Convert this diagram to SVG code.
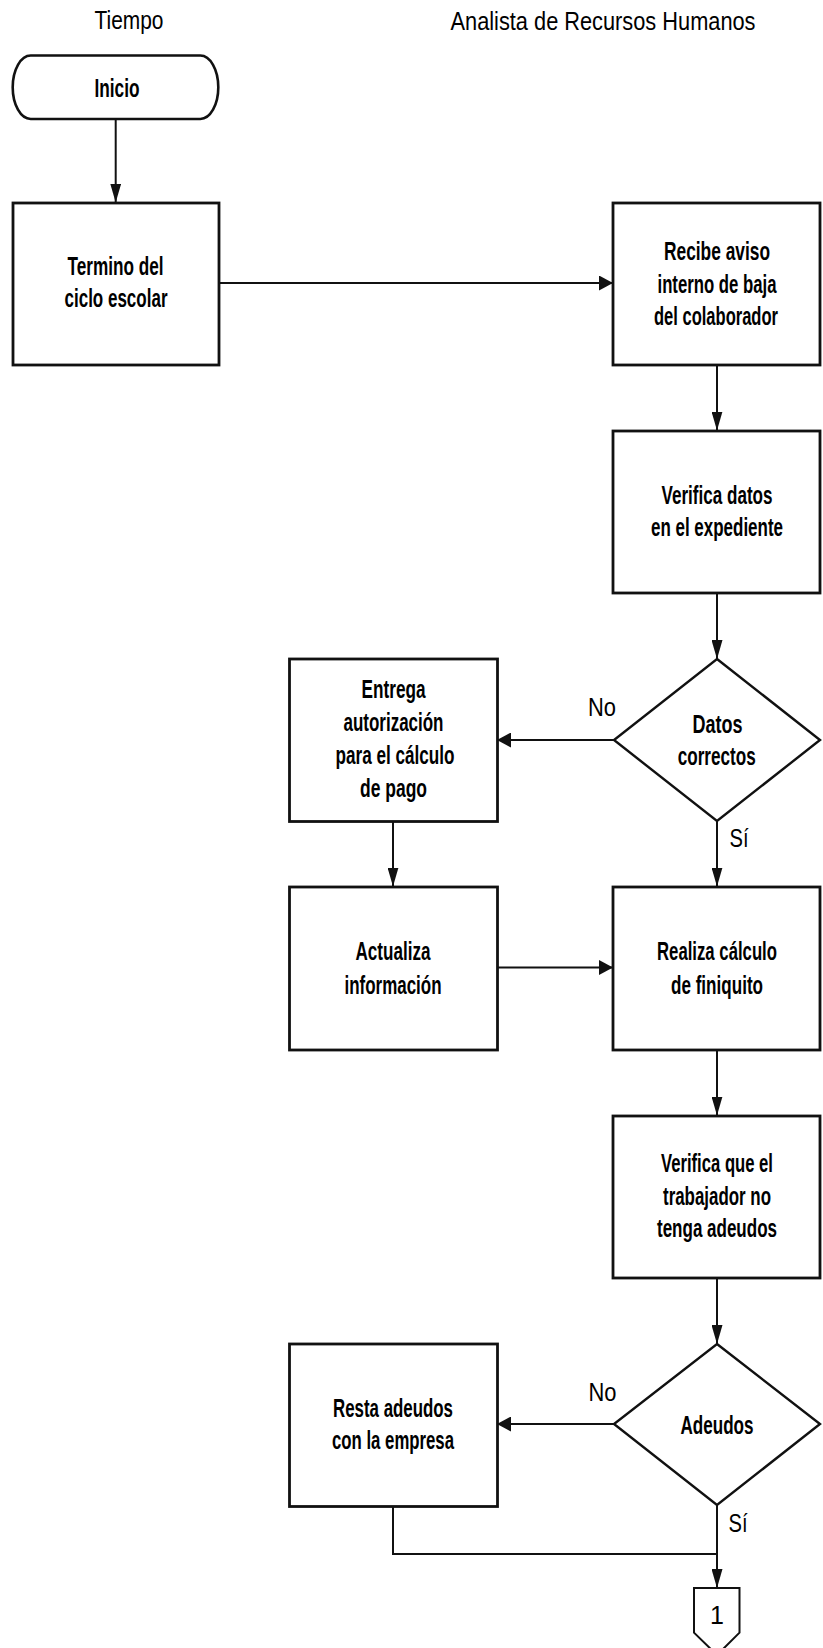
<svg xmlns="http://www.w3.org/2000/svg" width="823" height="1648" viewBox="0 0 823 1648">
  <defs>
    <style>
      .box { fill: #ffffff; stroke: #111111; stroke-width: 2.8; }
      .dec { fill: #ffffff; stroke: #111111; stroke-width: 2.4; }
      .term { fill: #ffffff; stroke: #111111; stroke-width: 2.6; }
      .off { fill: #ffffff; stroke: #111111; stroke-width: 2; }
      .wire { fill: none; stroke: #111111; stroke-width: 2; }
      .lbl { font-family: "Liberation Sans", Arial, sans-serif; font-weight: bold; font-size: 26px; fill: #000000; text-anchor: middle; }
      .hdr { font-family: "Liberation Sans", Arial, sans-serif; font-size: 25px; fill: #000000; text-anchor: middle; }
      .tag { font-family: "Liberation Sans", Arial, sans-serif; font-size: 25px; fill: #000000; text-anchor: middle; }
    </style>
    <!-- arrowheads: tall for vertical runs, square for horizontal runs -->
    <marker id="arrV" markerUnits="userSpaceOnUse" markerWidth="19" markerHeight="11" refX="19" refY="5.5" orient="auto">
      <path d="M0,0 L19,5.5 L0,11 Z" fill="#111111"/>
    </marker>
    <marker id="arrH" markerUnits="userSpaceOnUse" markerWidth="14" markerHeight="15" refX="14" refY="7.5" orient="auto">
      <path d="M0,0 L14,7.5 L0,15 Z" fill="#111111"/>
    </marker>
  </defs>

  <rect width="823" height="1648" fill="#ffffff"/>

  <!-- lane headers -->
  <g id="headers">
    <text class="hdr" x="129" y="29" textLength="69" lengthAdjust="spacingAndGlyphs">Tiempo</text>
    <text class="hdr" x="603" y="29.5" textLength="305" lengthAdjust="spacingAndGlyphs">Analista de Recursos Humanos</text>
  </g>

  <!-- connectors -->
  <g id="connectors">
    <line class="wire" x1="115.7" y1="119" x2="115.7" y2="202.5" marker-end="url(#arrV)"/>
    <line class="wire" x1="219" y1="283" x2="613" y2="283" marker-end="url(#arrH)"/>
    <line class="wire" x1="717" y1="365" x2="717" y2="430.5" marker-end="url(#arrV)"/>
    <line class="wire" x1="717" y1="593" x2="717" y2="659" marker-end="url(#arrV)"/>
    <line class="wire" x1="614" y1="740" x2="497" y2="740" marker-end="url(#arrH)"/>
    <line class="wire" x1="717" y1="821" x2="717" y2="886.5" marker-end="url(#arrV)"/>
    <line class="wire" x1="393" y1="821" x2="393" y2="886.5" marker-end="url(#arrV)"/>
    <line class="wire" x1="497" y1="967.5" x2="613" y2="967.5" marker-end="url(#arrH)"/>
    <line class="wire" x1="717" y1="1049" x2="717" y2="1115.5" marker-end="url(#arrV)"/>
    <line class="wire" x1="717" y1="1278" x2="717" y2="1344" marker-end="url(#arrV)"/>
    <line class="wire" x1="614" y1="1424" x2="497" y2="1424" marker-end="url(#arrH)"/>
    <line class="wire" x1="717" y1="1505" x2="717" y2="1588" marker-end="url(#arrV)"/>
    <polyline class="wire" points="393,1506 393,1554 717,1554"/>
    <text class="tag" x="602" y="716" textLength="28" lengthAdjust="spacingAndGlyphs">No</text>
    <text class="tag" x="739" y="846.7" textLength="19" lengthAdjust="spacingAndGlyphs">Sí</text>
    <text class="tag" x="602.5" y="1400.7" textLength="28" lengthAdjust="spacingAndGlyphs">No</text>
    <text class="tag" x="738" y="1531.7" textLength="19" lengthAdjust="spacingAndGlyphs">Sí</text>
  </g>

  <g id="inicio">
    <rect class="term" x="12.7" y="55.5" width="205.6" height="63.5" rx="18" ry="31.7"/>
    <text class="lbl" x="117" y="96.7" textLength="45" lengthAdjust="spacingAndGlyphs">Inicio</text>
  </g>

  <g id="termino-ciclo">
    <rect class="box" x="13" y="203" width="206" height="162"/>
    <text class="lbl" x="115.5" y="275" textLength="96" lengthAdjust="spacingAndGlyphs">Termino del</text>
    <text class="lbl" x="116" y="307" textLength="103" lengthAdjust="spacingAndGlyphs">ciclo escolar</text>
  </g>

  <g id="recibe-aviso">
    <rect class="box" x="613" y="203" width="207" height="162"/>
    <text class="lbl" x="717" y="260" textLength="106" lengthAdjust="spacingAndGlyphs">Recibe aviso</text>
    <text class="lbl" x="717" y="292.7" textLength="119" lengthAdjust="spacingAndGlyphs">interno de baja</text>
    <text class="lbl" x="716" y="325" textLength="124" lengthAdjust="spacingAndGlyphs">del colaborador</text>
  </g>

  <g id="verifica-datos">
    <rect class="box" x="613" y="431" width="207" height="162"/>
    <text class="lbl" x="717" y="504" textLength="111" lengthAdjust="spacingAndGlyphs">Verifica datos</text>
    <text class="lbl" x="717" y="536" textLength="132" lengthAdjust="spacingAndGlyphs">en el expediente</text>
  </g>

  <g id="datos-correctos">
    <polygon class="dec" points="717,659 820,740 717,821 614,740"/>
    <text class="lbl" x="717.5" y="732.7" textLength="50" lengthAdjust="spacingAndGlyphs">Datos</text>
    <text class="lbl" x="716.7" y="765" textLength="78" lengthAdjust="spacingAndGlyphs">correctos</text>
  </g>

  <g id="entrega-autorizacion">
    <rect class="box" x="289.5" y="659" width="208" height="162.5"/>
    <text class="lbl" x="393.5" y="698" textLength="64" lengthAdjust="spacingAndGlyphs">Entrega</text>
    <text class="lbl" x="393.5" y="731" textLength="100" lengthAdjust="spacingAndGlyphs">autorización</text>
    <text class="lbl" x="395" y="764" textLength="119" lengthAdjust="spacingAndGlyphs">para el cálculo</text>
    <text class="lbl" x="393.5" y="797" textLength="67" lengthAdjust="spacingAndGlyphs">de pago</text>
  </g>

  <g id="actualiza-informacion">
    <rect class="box" x="289.5" y="887" width="208" height="163"/>
    <text class="lbl" x="393" y="959.5" textLength="75" lengthAdjust="spacingAndGlyphs">Actualiza</text>
    <text class="lbl" x="393" y="993.5" textLength="97" lengthAdjust="spacingAndGlyphs">información</text>
  </g>

  <g id="realiza-calculo">
    <rect class="box" x="613" y="887" width="207" height="163"/>
    <text class="lbl" x="717" y="959.5" textLength="120" lengthAdjust="spacingAndGlyphs">Realiza cálculo</text>
    <text class="lbl" x="717" y="993.5" textLength="92" lengthAdjust="spacingAndGlyphs">de finiquito</text>
  </g>

  <g id="verifica-adeudos">
    <rect class="box" x="613" y="1116" width="207" height="162"/>
    <text class="lbl" x="717" y="1171.7" textLength="112" lengthAdjust="spacingAndGlyphs">Verifica que el</text>
    <text class="lbl" x="717" y="1205" textLength="108" lengthAdjust="spacingAndGlyphs">trabajador no</text>
    <text class="lbl" x="717" y="1237.3" textLength="120" lengthAdjust="spacingAndGlyphs">tenga adeudos</text>
  </g>

  <g id="adeudos">
    <polygon class="dec" points="717,1344 820,1424 717,1505 614,1424"/>
    <text class="lbl" x="717" y="1434" textLength="73" lengthAdjust="spacingAndGlyphs">Adeudos</text>
  </g>

  <g id="resta-adeudos">
    <rect class="box" x="289.5" y="1344" width="208" height="162.5"/>
    <text class="lbl" x="393" y="1416.7" textLength="120" lengthAdjust="spacingAndGlyphs">Resta adeudos</text>
    <text class="lbl" x="393" y="1449.3" textLength="122" lengthAdjust="spacingAndGlyphs">con la empresa</text>
  </g>

  <g id="conector-1">
    <polygon class="off" points="694,1588 739.5,1588 739.5,1632.7 717,1655 694,1632.7"/>
    <text class="tag" x="717" y="1624">1</text>
  </g>
</svg>
